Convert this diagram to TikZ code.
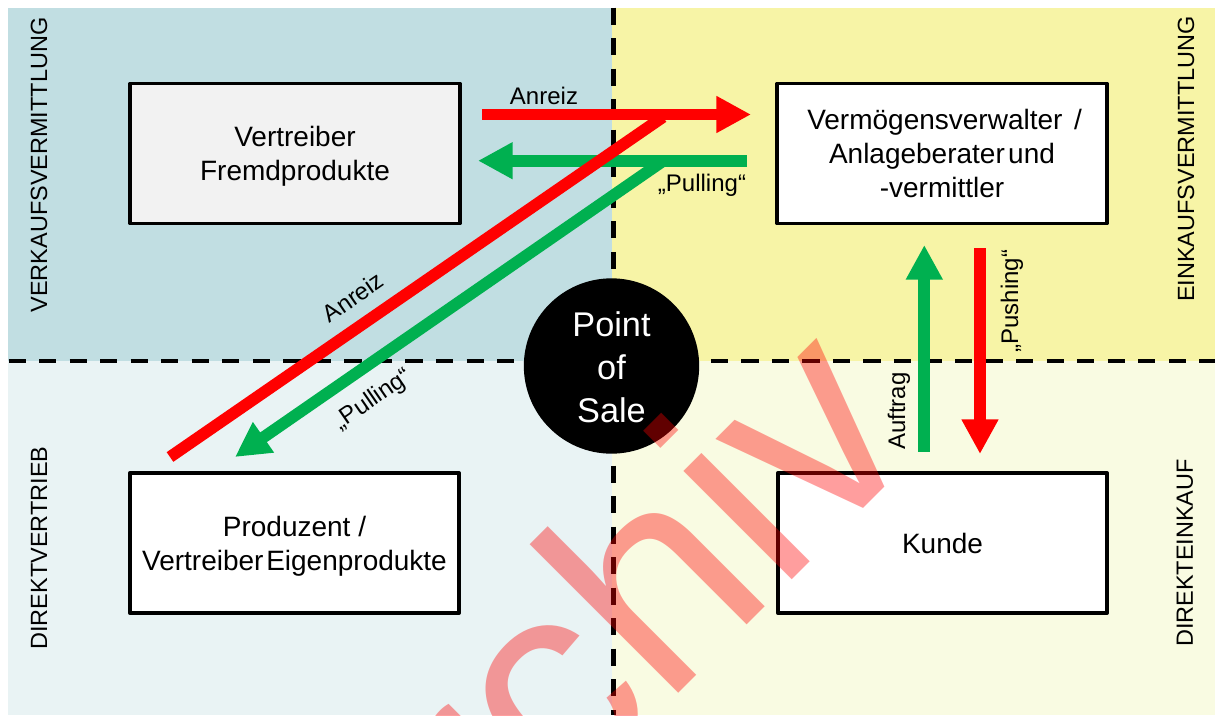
\documentclass[tikz,border=0pt]{standalone}
\usepackage{fontspec}
\setmainfont{Liberation Sans}
\usetikzlibrary{arrows.meta}
\definecolor{panelTL}{HTML}{C1DEE2}
\definecolor{panelTR}{HTML}{F7F4A6}
\definecolor{panelBL}{HTML}{E9F3F4}
\definecolor{panelBR}{HTML}{F9FBE2}
\definecolor{boxgrey}{HTML}{F2F2F2}
\definecolor{arrowgreen}{HTML}{00B050}
\tikzset{
  x=.75pt,y=-.75pt,
  actor/.style={draw=black,line width=2.8pt,line join=round,fill=white,minimum width=247pt,minimum height=105pt,inner sep=0pt,align=center,font=\fontsize{21}{25.5}\selectfont},
  divider/.style={line width=3.3pt,dash pattern=on 12.9pt off 10pt},
  flowred/.style={draw=red,line width=8.8pt,-{Triangle[length=26pt,width=26pt]}},
  flowgreen/.style={draw=arrowgreen,line width=8.8pt,-{Triangle[length=26pt,width=26pt]}},
  plainred/.style={draw=red,line width=8.8pt},
  smalllabel/.style={inner sep=0pt,font=\fontsize{18}{20}\selectfont},
  sidelabel/.style={inner sep=0pt,rotate=90,font=\fontsize{17.6}{20}\selectfont},
}
\begin{document}
\begin{tikzpicture}
\useasboundingbox (0,0) rectangle (1215,715);
\fill[white] (0,0) rectangle (1215,715);
\fill[panelTL] (8,8) rectangle (612,361);
\fill[panelTR] (612,8) rectangle (1215,361);
\fill[panelBL] (8,361) rectangle (612,715);
\fill[panelBR] (612,361) rectangle (1215,715);
\coordinate (hL) at (8.5,361); \coordinate (hR) at (1215,361);
\coordinate (vT) at (613.5,7.5); \coordinate (vB) at (613.5,715);
\draw[divider] (hL) -- (hR);
\draw[divider] (vT) -- (vB);
\node[actor,fill=boxgrey] (fremd) at (295,153.5) {\rule{0pt}{19.5pt}Vertreiber\\Fremdprodukte};
\node[actor] (verm) at (942,153.5) {\hspace*{4pt}Vermögensverwalter\hspace{.42em}/\\Anlageberater\hspace{.12em}und\\-vermittler};
\node[actor] (prod) at (294.5,543) {\rule{0pt}{19.5pt}Produzent /\\Vertreiber\hspace{.1em}Eigenprodukte};
\node[actor] (kunde) at (942.5,543) {Kunde};
\node[circle,fill=black,minimum size=131.5pt,inner sep=0pt,text=white,align=center,font=\fontsize{25.7}{32}\selectfont] (pos) at (611.5,366) {\rule{0pt}{20.5pt}Point\\of\\Sale};
\coordinate (gs) at (746.5,160.7); \coordinate (ge) at (478,160.7);
\coordinate (gds) at (663,161); \coordinate (gde) at (235,457);
\coordinate (rs) at (482,114.5); \coordinate (re) at (751,114.5);
\coordinate (rds) at (663,117); \coordinate (rde) at (170,457);
\coordinate (aufs) at (924.3,451.7); \coordinate (aufe) at (924.3,245);
\coordinate (pushs) at (980,248); \coordinate (pushe) at (980,454);
\draw[flowgreen] (gs) -- (ge);
\draw[flowgreen] (gds) -- (gde);
\draw[flowred] (rs) -- (re);
\draw[plainred] (rds) -- (rde);
\draw[flowgreen] (aufs) -- (aufe);
\draw[flowred] (pushs) -- (pushe);
\node[smalllabel] (l1) at (544,96) {Anreiz};
\node[smalllabel] (l2) at (702,185) {„Pulling“};
\node[smalllabel,rotate=34.6] (l3) at (353,297) {Anreiz};
\node[smalllabel,rotate=34.6] (l4) at (373,400) {„Pulling“};
\node[smalllabel,rotate=90] (l5) at (899,411) {Auftrag};
\node[smalllabel,rotate=90] (l6) at (1012,301) {„Pushing“};
\node[sidelabel] (s1) at (39,165) {VERKAUFSVERMITTLUNG};
\node[sidelabel] (s2) at (1186,159) {EINKAUFSVERMITTLUNG};
\node[sidelabel] (s3) at (39,548) {DIREKTVERTRIEB};
\node[sidelabel] (s4) at (1185,553) {DIREKTEINKAUF};
\begin{scope}
\clip (8,8) rectangle (1215,715);
\node[anchor=base west,inner sep=0pt,rotate=45,text=red,text opacity=.38,font=\fontsize{217.5}{217.5}\selectfont] (wm) at (356.5,1015.5) {Archiv};
\end{scope}
\end{tikzpicture}
\end{document}
